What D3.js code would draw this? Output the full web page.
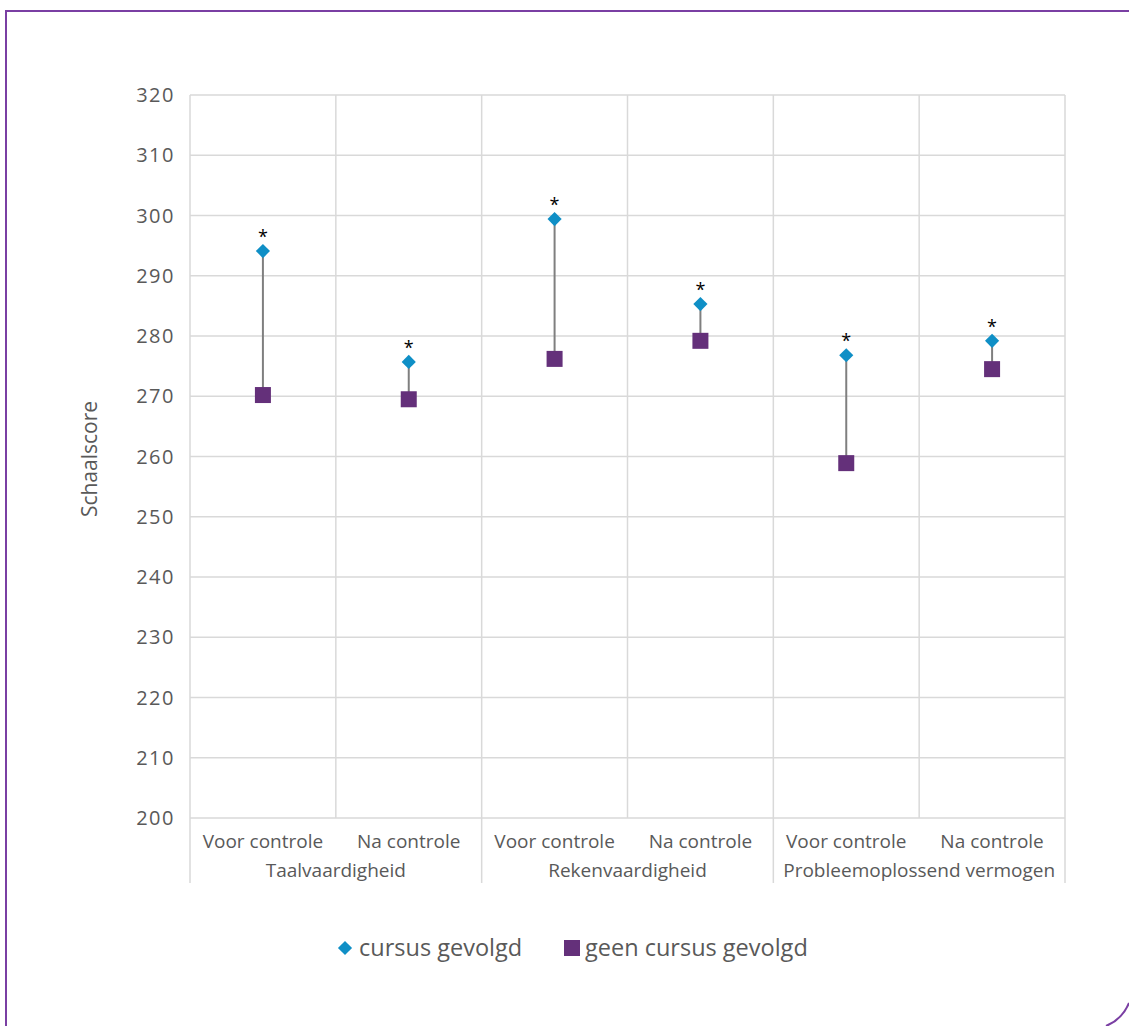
<!DOCTYPE html>
<html><head><meta charset="utf-8">
<script src="https://cdn.jsdelivr.net/npm/d3@7"></script>
<style>body{margin:0;background:#fff}svg{display:block}text{font-family:"Open Sans",Lato,sans-serif;fill:#595959}</style>
</head><body><svg id="c" width="1129" height="1026"></svg>
<script>
const groups = ["Taalvaardigheid", "Rekenvaardigheid", "Probleemoplossend vermogen"];
const subs = ["Voor controle", "Na controle"];
const cursus = [294.1, 275.7, 299.4, 285.3, 276.8, 279.2];
const geenCursus = [270.2, 269.5, 276.2, 279.2, 258.9, 274.5];
const significant = [true, true, true, true, true, true];
const yTicks = [200,210,220,230,240,250,260,270,280,290,300,310,320];
const legendLabels = ["cursus gevolgd", "geen cursus gevolgd"];

const svg = d3.select("#c");
const L = 190, R = 1065, T = 95, B = 818;
const cats = [];
groups.forEach(g => subs.forEach(s => cats.push(g + "|" + s)));
const x = d3.scaleBand().domain(cats).range([L, R]);
const y = d3.scaleLinear().domain([200, 320]).range([B, T]);

// frame
svg.append("path").attr("d", "M6,1026V11H1129").attr("fill","none").attr("stroke","#7a3fa3").attr("stroke-width",2);
svg.append("path").attr("d", "M1106,1026A42,42 0 0 0 1129,1003").attr("fill","none").attr("stroke","#7a3fa3").attr("stroke-width",2);

// gridlines
const grid = svg.append("g").attr("stroke","#d9d9d9").attr("stroke-width",1.5);
yTicks.forEach(t => grid.append("line").attr("x1",L).attr("x2",R).attr("y1",y(t)).attr("y2",y(t)));
cats.forEach((c,i) => {
  const xx = x(c);
  const groupStart = i % 2 === 0;
  grid.append("line").attr("x1",xx).attr("x2",xx).attr("y1",T).attr("y2", groupStart ? 883 : B);
});
grid.append("line").attr("x1",R).attr("x2",R).attr("y1",T).attr("y2",883);

// y axis labels
yTicks.forEach(t => svg.append("text").attr("x",175).attr("y",y(t)).attr("dy","0.36em")
  .attr("text-anchor","end").attr("font-size",20).attr("letter-spacing",1.5).text(t));
svg.append("text").attr("transform",`translate(97,${459}) rotate(-90)`).attr("text-anchor","middle")
  .attr("font-size",21).text("Schaalscore");

// category labels
cats.forEach((c,i) => svg.append("text").attr("x", x(c)+x.bandwidth()/2).attr("y",848)
  .attr("text-anchor","middle").attr("font-size",19).text(subs[i%2]));
groups.forEach((g,gi) => svg.append("text").attr("x", x(cats[gi*2]) + x.bandwidth()).attr("y",877)
  .attr("text-anchor","middle").attr("font-size",19).text(g));

// connectors and markers
const diamond = d3.symbol().type(d3.symbolDiamond2).size(2*8*8);
cats.forEach((c,i) => {
  const cx = x(c) + x.bandwidth()/2;
  svg.append("line").attr("x1",cx).attr("x2",cx).attr("y1",y(cursus[i])).attr("y2",y(geenCursus[i]))
    .attr("stroke","#7f7f7f").attr("stroke-width",2);
  svg.append("rect").attr("x",cx-8).attr("y",y(geenCursus[i])-8).attr("width",16).attr("height",16).attr("fill","#64307a");
  svg.append("path").attr("d",diamond).attr("transform",`translate(${cx},${y(cursus[i])})`).attr("fill","#0f8fc6");
  if (significant[i]) svg.append("text").attr("x",cx).attr("y",y(cursus[i])-8).attr("text-anchor","middle")
    .attr("font-size",18).style("fill","#000").text("*");
});

// legend
const legDiamond = d3.symbol().type(d3.symbolDiamond2).size(2*8*8);
svg.append("path").attr("d",legDiamond).attr("transform","translate(345,948)").attr("fill","#0f8fc6");
svg.append("text").attr("x",359).attr("y",948).attr("dy","0.36em").attr("font-size",23.5).text(legendLabels[0]);
svg.append("rect").attr("x",564).attr("y",940).attr("width",16).attr("height",16).attr("fill","#64307a");
svg.append("text").attr("x",585).attr("y",948).attr("dy","0.36em").attr("font-size",23.5).text(legendLabels[1]);
</script></body></html>
